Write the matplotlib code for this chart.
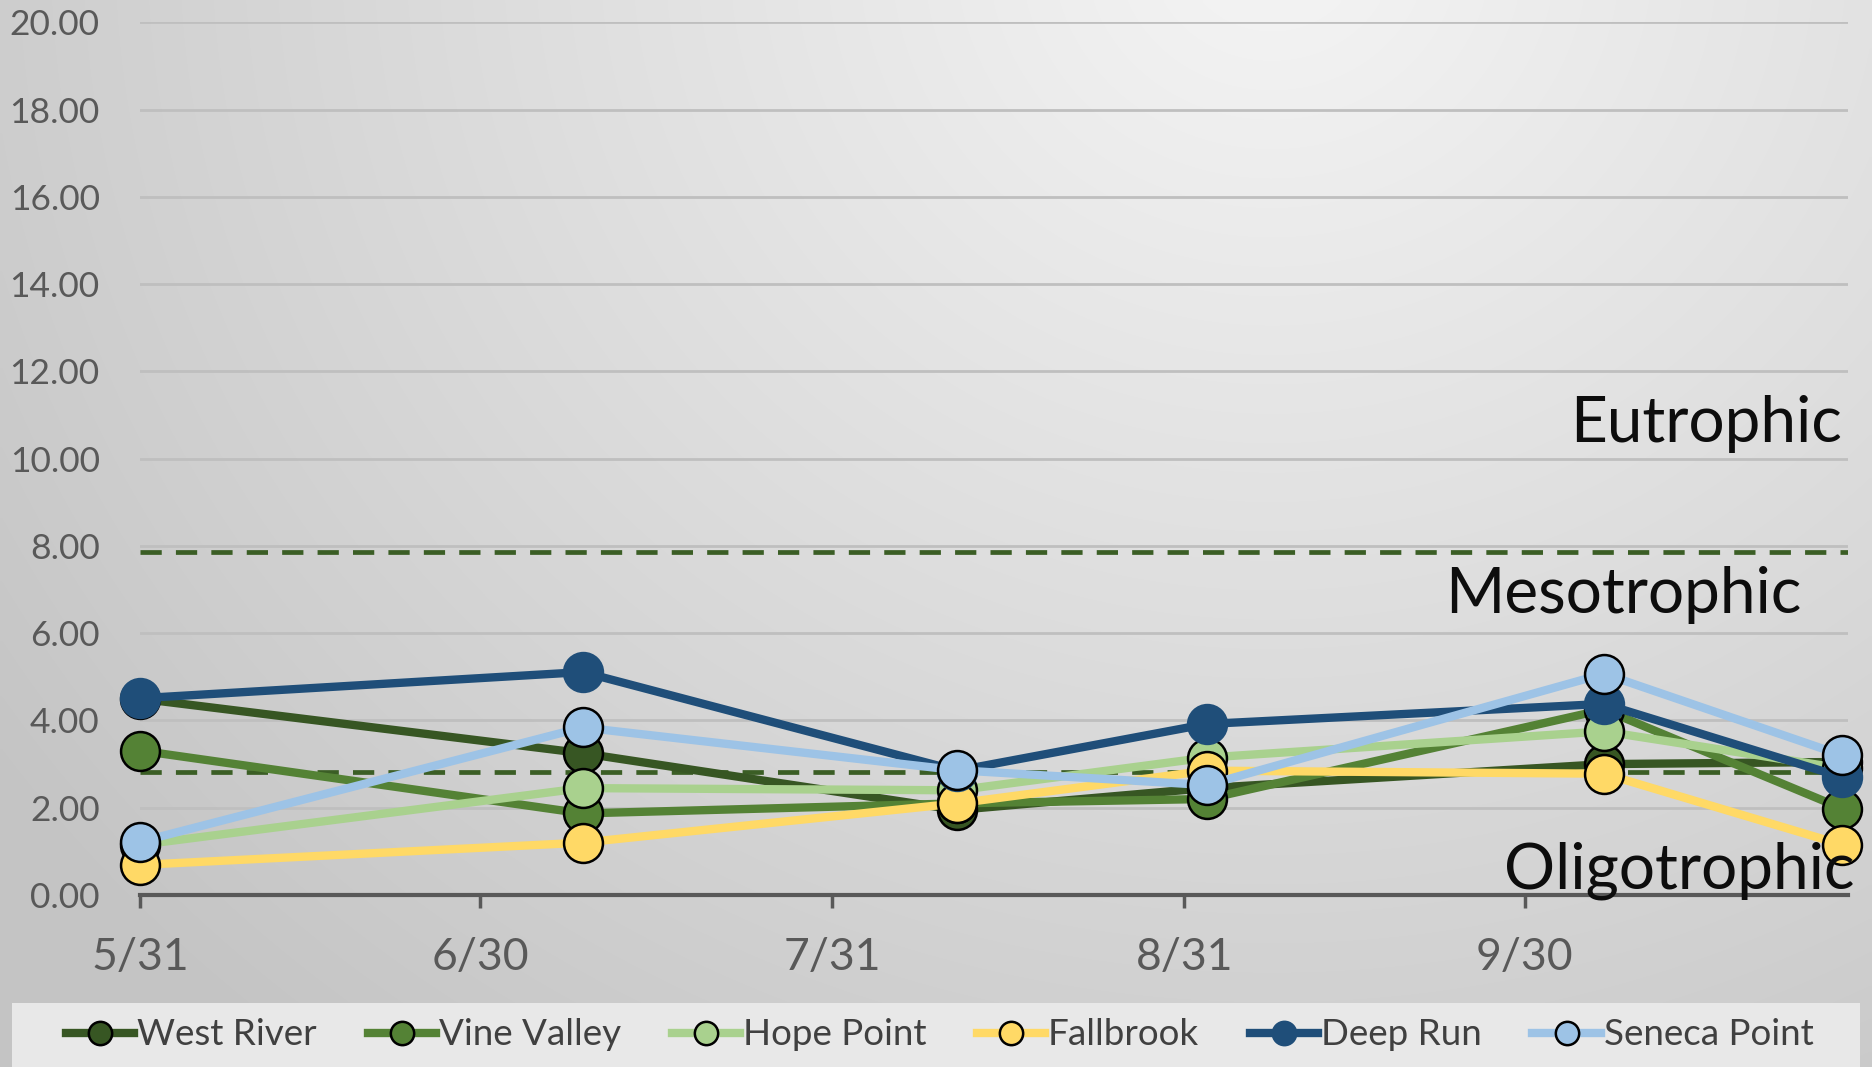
import numpy as np
import pandas as pd
import matplotlib
matplotlib.use("Agg")
import matplotlib.pyplot as plt
import matplotlib.transforms as mtransforms
from matplotlib.patches import Rectangle

plt.rcParams["font.family"] = ["Lato", "DejaVu Sans"]

# --- data ---
sample_dates = ["2019-05-31", "2019-07-09", "2019-08-11", "2019-09-02", "2019-10-07", "2019-10-28"]
west_river = [4.50, 3.25, 1.95, 2.45, 3.00, 3.05]
vine_valley = [3.31, 1.87, 2.10, 2.20, 4.25, 1.98]
hope_point = [1.15, 2.45, 2.40, 3.15, 3.75, 2.90]
fallbrook = [0.69, 1.20, 2.10, 2.85, 2.78, 1.15]
deep_run = [4.51, 5.11, 2.85, 3.92, 4.38, 2.70]
seneca_point = [1.22, 3.84, 2.86, 2.52, 5.07, 3.20]

tick_dates = ["2019-05-31", "2019-06-30", "2019-07-31", "2019-08-31", "2019-09-30"]
tick_labels = ["5/31", "6/30", "7/31", "8/31", "9/30"]

thresholds = [7.87, 2.82]
zone_labels = ["Eutrophic", "Mesotrophic", "Oligotrophic"]
zone_label_y = [10.38, 6.46, 0.16]

series = [
    ("West River", west_river, "#375623", "black"),
    ("Vine Valley", vine_valley, "#548235", "black"),
    ("Hope Point", hope_point, "#a9d18e", "black"),
    ("Fallbrook", fallbrook, "#ffd966", "black"),
    ("Deep Run", deep_run, "#1f4e79", "#1f4e79"),
    ("Seneca Point", seneca_point, "#9dc3e6", "black"),
]

x = pd.to_datetime(sample_dates)
xt = pd.to_datetime(tick_dates)

W, H = 1872, 1067
fig = plt.figure(figsize=(W / 100, H / 100), dpi=100)

# background gradient over the whole figure
bg = fig.add_axes([0, 0, 1, 1], zorder=-10)
u, v = np.meshgrid(np.linspace(0, 1, 400), np.linspace(0, 1, 240))
d = np.sqrt(((u - 0.68) / 0.75) ** 2 + ((v + 0.05) / 1.2) ** 2)
shade = np.clip(0.96 - 0.17 * d, 0.77, 1.0)
bg.imshow(np.dstack([shade] * 3), aspect="auto", extent=(0, 1, 0, 1), origin="upper",
          interpolation="bilinear")
bg.set_axis_off()

# legend band
fig.patches.append(Rectangle((0.0064, 0.0), 0.9872, 0.06, transform=fig.transFigure,
                             facecolor="#e8e8e8", edgecolor="none", zorder=-5))

ax = fig.add_axes([0.0748, 0.1612, 0.9124, 0.8178])
ax.patch.set_alpha(0)

for y0 in thresholds:
    ax.axhline(y0, color="#3b5e25", lw=3.4, dashes=(4.5, 3), zorder=2)

for name, vals, col, edge in series:
    ax.plot(x, vals, color=col, lw=6, marker="o", markersize=28,
            markerfacecolor=col, markeredgecolor=edge, markeredgewidth=1.8,
            label=name, zorder=3, clip_on=False)

ax.set_ylim(0, 20)
ax.set_yticks(np.arange(0, 21, 2))
ax.set_yticklabels([f"{t:.2f}" for t in np.arange(0, 21, 2)])
ax.set_xlim(x[0], x[0] + pd.Timedelta(days=150.5))
ax.set_xticks(xt)
ax.set_xticklabels(tick_labels)

ax.grid(axis="y", color="#bfbfbf", lw=2)
ax.set_axisbelow(True)
for s in ["top", "right", "left"]:
    ax.spines[s].set_visible(False)
ax.spines["bottom"].set_color("#595959")
ax.spines["bottom"].set_linewidth(3)
ax.spines["bottom"].set_zorder(2.5)

ax.tick_params(axis="y", length=0, pad=29, labelsize=25.5, labelcolor="#595959")
ax.tick_params(axis="x", length=9, width=2.5, color="#595959", direction="out",
               pad=21, labelsize=32, labelcolor="#595959")

trans = mtransforms.blended_transform_factory(ax.transAxes, ax.transData)
for lab, yl, xr in zip(zone_labels, zone_label_y, [0.9965, 0.973, 1.004]):
    ax.text(xr, yl, lab, transform=trans, ha="right", va="baseline",
            fontsize=46, color="#0d0d0d", zorder=4)

handles, labels = ax.get_legend_handles_labels()
leg = fig.legend(handles, labels, loc="center", bbox_to_anchor=(0.502, 0.03), ncol=6,
                 frameon=False, fontsize=26.5, handlelength=1.85, handletextpad=0.08,
                 columnspacing=1.38, markerscale=0.6)
for t in leg.get_texts():
    t.set_color("#404040")

fig.savefig("out.png", dpi=100)
